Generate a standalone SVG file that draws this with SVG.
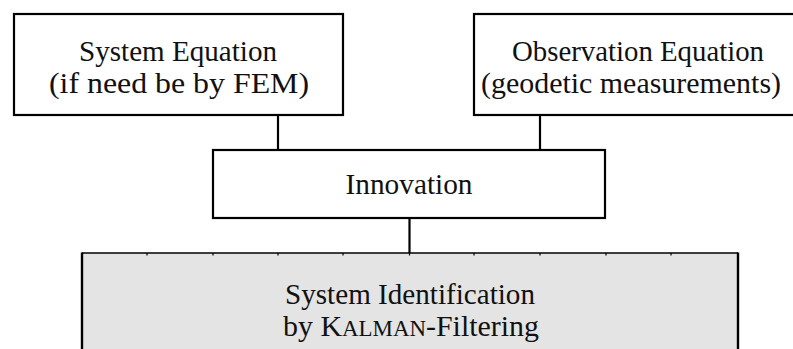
<svg xmlns="http://www.w3.org/2000/svg" width="793" height="349" viewBox="0 0 793 349">
<style>
.box{fill:#fff;stroke:#000;stroke-width:2.2}
.lbl{font-family:"Liberation Serif","Times New Roman",serif;font-size:30px;fill:#111;text-anchor:middle}
.sc{font-size:23px}
.conn{stroke:#000;stroke-width:2.2;fill:none}
</style>
<rect width="793" height="349" fill="#fff"/>
<g id="connectors">
<line class="conn" x1="278" y1="115" x2="278" y2="150"/>
<line class="conn" x1="540" y1="115" x2="540" y2="150"/>
<line class="conn" x1="409.5" y1="218" x2="409.5" y2="253"/>
</g>
<g id="system-equation">
<rect class="box" x="14" y="14" width="329" height="101"/>
<text class="lbl" x="178" y="61" textLength="198" lengthAdjust="spacingAndGlyphs">System Equation</text>
<text class="lbl" x="179" y="93" textLength="260" lengthAdjust="spacingAndGlyphs">(if need be by FEM)</text>
</g>
<g id="observation-equation">
<rect class="box" x="474" y="14" width="321" height="101"/>
<text class="lbl" x="638" y="61" textLength="252" lengthAdjust="spacingAndGlyphs">Observation Equation</text>
<text class="lbl" x="631" y="93" textLength="300" lengthAdjust="spacingAndGlyphs">(geodetic measurements)</text>
</g>
<g id="innovation">
<rect class="box" x="213" y="150" width="392" height="68"/>
<text class="lbl" x="409" y="194" textLength="127" lengthAdjust="spacingAndGlyphs">Innovation</text>
</g>
<g id="system-identification">
<rect x="82" y="253" width="656" height="110" fill="#e4e4e4"/>
<line x1="82" y1="253" x2="738" y2="253" stroke="#000" stroke-width="1.3"/>
<line x1="82" y1="252.5" x2="82" y2="349" stroke="#000" stroke-width="2.4"/>
<line x1="738" y1="252.5" x2="738" y2="349" stroke="#000" stroke-width="2.4"/>
<path d="M147 253v2.5M213 253v2.5M278 253v2.5M343 253v2.5M409.5 253v2.5M474 253v2.5M540 253v2.5M606 253v2.5M671 253v2.5" stroke="#000" stroke-width="1.2"/>
<text class="lbl" x="410" y="304" textLength="250" lengthAdjust="spacingAndGlyphs">System Identification</text>
<text class="lbl" x="411" y="336" textLength="256" lengthAdjust="spacingAndGlyphs">by K<tspan class="sc">ALMAN</tspan>-Filtering</text>
</g>
</svg>
